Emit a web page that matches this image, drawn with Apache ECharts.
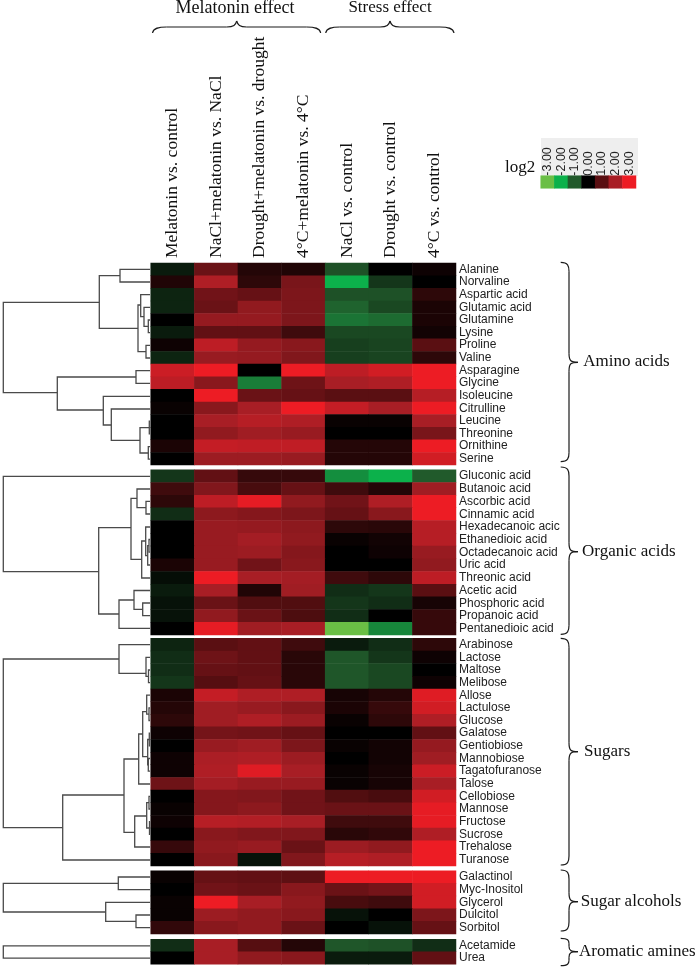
<!DOCTYPE html>
<html><head><meta charset="utf-8">
<script src="https://cdn.jsdelivr.net/npm/echarts@6/dist/echarts.min.js"></script>
<style>html,body{margin:0;padding:0;background:#fff}#c{width:700px;height:969px}</style>
</head><body><div id="c"></div>
<script>
const columns = ['Melatonin vs. control','NaCl+melatonin vs. NaCl','Drought+melatonin vs. drought','4°C+melatonin vs. 4°C','NaCl vs. control','Drought vs. control','4°C vs. control'];

const aminoRows = ['Alanine','Norvaline','Aspartic acid','Glutamic acid','Glutamine','Lysine','Proline','Valine','Asparagine','Glycine','Isoleucine','Citrulline','Leucine','Threonine','Ornithine','Serine'];
const aminoValues = [
[-0.3,1.2,0.4,0.35,-0.9,0,0.15],
[0.35,2.1,0.5,1.4,-2,-0.6,0],
[-0.4,1.3,1.15,1.45,-0.9,-0.9,0.5],
[-0.4,1.2,1.7,1.45,-1.1,-0.8,0.3],
[0,1.75,1.75,1.45,-1.3,-1.2,0.3],
[-0.3,1.1,1.1,0.7,-0.8,-0.8,0.2],
[0.15,2.3,1.75,1.6,-0.7,-0.75,1],
[-0.4,1.8,1.75,1.5,-0.7,-0.75,0.5],
[2.5,3,0,3,2.3,2.6,3],
[2.3,1.6,-1.4,1.25,2,2.1,3],
[0,3,1.2,1.15,1,1,2.2],
[0.1,1.6,2,3,2.4,2,3],
[0,2,2.2,2.1,0.1,0.1,2],
[0,1.7,1.9,1.8,0,0,1.4],
[0.3,2.4,2.35,2.35,0.4,0.4,3],
[0,1.85,1.85,1.8,0.4,0.4,2.6]];

const organicRows = ['Gluconic acid','Butanoic acid','Ascorbic acid','Cinnamic acid','Hexadecanoic acic','Ethanedioic acid','Octadecanoic acid','Uric acid','Threonic acid','Acetic acid','Phosphoric acid','Propanoic acid','Pentanedioic acid'];
const organicValues = [
[-0.6,1.1,0.6,0.6,-1.6,-2,-1],
[0.7,1.5,0.8,1.15,0.7,0.4,1.9],
[0.5,2.3,2.9,1.7,1.3,2.1,3],
[-0.5,1.65,1.55,1.45,1.15,1.6,3],
[0,1.8,1.75,1.65,0.5,0.45,2.2],
[0,1.8,1.95,1.7,0.1,0.2,2.2],
[0,1.8,1.85,1.55,0,0.15,1.8],
[0.3,1.8,1.3,1.6,0,0,1.7],
[-0.15,3,2,1.95,0.7,0.5,2.3],
[-0.3,2,0.35,1.9,-0.5,-0.6,1],
[-0.2,1.2,0.9,0.9,-0.6,-0.5,0.25],
[-0.2,1.7,1.2,0.85,-0.5,0,0.6],
[0,2.9,1.9,2,-3,-1.5,0.6]];

const sugarRows = ['Arabinose','Lactose','Maltose','Melibose','Allose','Lactulose','Glucose','Galatose','Gentiobiose','Mannobiose','Tagatofuranose','Talose','Cellobiose','Mannose','Fructose','Sucrose','Trehalose','Turanose'];
const sugarValues = [
[-0.4,1,1.1,0.7,-0.3,-0.5,0.5],
[-0.5,1.25,1.1,0.45,-0.95,-0.6,0.15],
[-0.5,1.15,1.1,0.45,-0.95,-0.8,0],
[-0.6,0.95,1.15,0.45,-0.95,-0.8,0.15],
[0.3,2.4,2.1,2.1,0.25,0.4,2.8],
[0.4,1.9,1.8,1.6,0.3,0.6,2.6],
[0.5,1.9,2.1,1.85,0.1,0.5,2.1],
[0.15,1.35,1.3,1.15,0,0,1.1],
[0,1.8,1.9,1.45,0.1,0.2,1.75],
[0.15,2.05,2.1,1.85,0,0.2,1.9],
[0.15,2.1,2.8,2,0.1,0.25,2.5],
[1.25,1.95,1.8,1.8,0.1,0.25,2],
[0,1.55,1.5,1.3,0.9,0.8,2.6],
[0.1,1.55,1.65,1.3,1.2,1.2,2.9],
[0.15,2.2,2.15,2,0.7,0.7,2.9],
[0,1.6,1.5,1.5,0.45,0.55,2.1],
[0.6,1.7,1.8,1.2,1.85,1.7,3],
[0,1.6,-0.2,1.5,2.2,2.1,3]];

const alcoholRows = ['Galactinol','Myc-Inositol','Glycerol','Dulcitol','Sorbitol'];
const alcoholValues = [
[0.1,1.15,1.1,1.05,3,3,3],
[0,1.3,1.2,1.6,1.2,1.35,2.6],
[0.1,3,2,1.7,0.8,0.7,2.6],
[0.1,1.85,1.7,1.6,-0.2,0,1.45],
[0.55,1.6,1.7,1.2,0,-0.2,1.15]];

const amineRows = ['Acetamide','Urea'];
const amineValues = [
[-0.5,2,0.95,0.4,-0.95,-0.9,-0.5],
[0,2,1.7,1.6,-0.3,-0.3,1.1]];

const scaleValues = [-3,-2,-1,0,1,2,3];
const scaleLabels = ['-3.00','-2.00','-1.00','0.00','1.00','2.00','3.00'];
const scaleColors = ['#6abf45','#0cb14b','#215a2b','#000000','#5a0f12','#a81e25','#ed1c24'];

// dendrogram merges: [merge x, upper y, upper child x, lower y, lower child x]
const dendrogram = [
[3.3,302.3,99.3,392.7,57.3],[99.3,275.7,120,328.3,138],[120,269.4,150,282,150],
[138,305,140.7,351.7,146],[140.7,294.7,150,316.7,144],[144,307.3,150,326.3,148.3],[148.3,320,150,332.6,150],[146,345.3,150,358,150],
[57.3,377,136,410,103.3],[136,370.6,150,383.3,150],[103.3,396.3,150,425,111.3],[111.3,409,150,440.3,140],[140,427.6,149.3,453,148.3],
[149.3,421.2,150,433.9,150],[148.3,446.6,150,459.2,150],
[3.3,476.3,150,571.7,98.7],[98.7,527.7,131,614,119],[131,498.3,137,559.3,141.7],[137,489,150,507.7,146],[146,501.4,150,514,150],
[141.7,541,145.7,578,150],[145.7,527,150,555.7,147.7],[147.7,545.7,149,565,150],[149,539.5,150,552.2,150],
[119,600,134,628.4,150],[134,590.5,150,609.3,142.7],[142.7,603,150,615.7,150],
[3.3,659,119,827.7,62.7],[119,644.6,150,673.3,146],[146,657.3,150,676.3,148.5],[148.5,670,150,682.6,150],
[62.7,795,124,860,150],[124,759,138.7,832.3,134.7],[138.7,734,142.7,784,150],[142.7,711.7,146.7,756.7,147.7],
[146.7,695.2,150,714.2,149],[149,707.9,150,720.5,150],[147.7,739.5,149.3,764.8,148.3],[149.3,733.2,150,745.8,150],[148.3,758.5,150,771.1,150],
[134.7,816,146.7,847,150],[146.7,802.7,149,828,149.5],[149,796.4,150,809,150],[149.5,821.7,150,834.3,150],
[3.3,883.3,118.3,912,105.7],[118.3,877,150,889.7,150],[105.7,902.3,150,921.3,136],[136,915,150,927.6,150],
[3.3,945.8,150,958.2,150]
];

const groups = [
  {rows:aminoRows, values:aminoValues, top:263, height:202},
  {rows:organicRows, values:organicValues, top:469.7, height:165.3},
  {rows:sugarRows, values:sugarValues, top:638.3, height:227.7},
  {rows:alcoholRows, values:alcoholValues, top:870.7, height:63.3},
  {rows:amineRows, values:amineValues, top:939.3, height:25}
];
const serif = 'Liberation Serif, Times New Roman, serif';
const sans = 'Liberation Sans, Arial, sans-serif';
const grids=[], xAxes=[], yAxes=[], series=[];
groups.forEach((g,i)=>{
  grids.push({left:150.7, width:305.3, top:g.top, height:g.height});
  xAxes.push({gridIndex:i, type:'category', data:columns, position:'top',
    axisLine:{show:false}, axisTick:{show:false}, splitLine:{show:false},
    axisLabel: i===0 ? {show:true, interval:0, rotate:-90, margin:5, fontFamily:serif, fontSize:17.5, color:'#111'} : {show:false}});
  yAxes.push({gridIndex:i, type:'category', data:g.rows, inverse:true, position:'right',
    axisLine:{show:false}, axisTick:{show:false}, splitLine:{show:false},
    axisLabel:{interval:0, margin:3, fontFamily:sans, fontSize:12, color:'#222'}});
  const d=[];
  g.values.forEach((r,y)=>r.forEach((v,x)=>d.push([x,y,v])));
  series.push({type:'heatmap', xAxisIndex:i, yAxisIndex:i, data:d, progressive:0, animation:false, emphasis:{disabled:true}});
});
// colour scale grid
grids.push({left:540.7, width:95.3, top:175.7, height:12.6});
xAxes.push({gridIndex:5, type:'category', data:scaleLabels, position:'top',
  axisLine:{show:false}, axisTick:{show:false}, splitLine:{show:false},
  axisLabel:{interval:0, rotate:-90, margin:0, fontFamily:sans, fontSize:12.5, color:'#222'}});
yAxes.push({gridIndex:5, type:'category', data:['log2'], axisLine:{show:false}, axisTick:{show:false}, axisLabel:{show:false}, splitLine:{show:false}});
series.push({type:'heatmap', xAxisIndex:5, yAxisIndex:5, data:scaleValues.map((v,i)=>[i,0,v]), animation:false, emphasis:{disabled:true}});
// dendrogram grid
grids.push({left:0, width:150, top:0, height:969});
xAxes.push({gridIndex:6, type:'value', min:0, max:150, show:false});
yAxes.push({gridIndex:6, type:'value', min:0, max:969, inverse:true, show:false});
series.push({type:'custom', xAxisIndex:6, yAxisIndex:6, data:dendrogram, silent:true, animation:false, clip:false,
  encode:{x:0,y:1},
  renderItem:(p,api)=>{
    const m=api.value(0), ya=api.value(1), xa=api.value(2), yb=api.value(3), xb=api.value(4);
    return {type:'polyline', shape:{points:[api.coord([xa,ya]),api.coord([m,ya]),api.coord([m,yb]),api.coord([xb,yb])]},
      style:{fill:null, stroke:'#4a4a4a', lineWidth:1.3}};
  }});

const braceStyle={stroke:'#1a1a1a', lineWidth:1.2, fill:null};
function curve(a,b,c,d){return {type:'bezierCurve',silent:true,shape:{x1:a[0],y1:a[1],cpx1:b[0],cpy1:b[1],cpx2:c[0],cpy2:c[1],x2:d[0],y2:d[1]},style:braceStyle};}
function seg(a,b){return {type:'line',silent:true,shape:{x1:a[0],y1:a[1],x2:b[0],y2:b[1]},style:braceStyle};}
function rightBrace(x0,xm,tip,yt,ym,yb){
  const r=Math.min(9,(yb-yt)/5);
  return [curve([x0,yt],[xm-1,yt],[xm,yt+r*.4],[xm,yt+r]),seg([xm,yt+r],[xm,ym-r]),curve([xm,ym-r],[xm,ym-1],[xm+2,ym],[tip,ym]),
          curve([tip,ym],[xm+2,ym],[xm,ym+1],[xm,ym+r]),seg([xm,ym+r],[xm,yb-r]),curve([xm,yb-r],[xm,yb-r*.4],[xm-1,yb],[x0,yb])];
}
function topBrace(xl,xr,tip,ye,ym,yt){
  return [curve([xl,ye],[xl+1,ym+1],[xl+6,ym],[xl+14,ym]),seg([xl+14,ym],[tip-10,ym]),curve([tip-10,ym],[tip-3,ym],[tip-1,ym-2],[tip,yt]),
          curve([tip,yt],[tip+1,ym-2],[tip+3,ym],[tip+10,ym]),seg([tip+10,ym],[xr-14,ym]),curve([xr-14,ym],[xr-6,ym],[xr-1,ym+1],[xr,ye])];
}
function label(t,x,y,align,size){return {type:'text',silent:true,x:x,y:y,style:{text:t,font:(size||17)+'px '+serif,fill:'#111',textAlign:align||'left',textVerticalAlign:'middle'}};}
const graphic=[
  {type:'rect',silent:true,z:-1,shape:{x:541,y:138,width:97,height:38},style:{fill:'#eeeeee'}},
  label('Melatonin effect',235,8,'center',18),
  label('Stress effect',390,8,'center'),
  label('log2',505,168),
  label('Amino acids',583.3,362),
  label('Organic acids',582,552),
  label('Sugars',584,751.5),
  label('Sugar alcohols',580.7,902),
  label('Aromatic amines',579,952),
  ...topBrace(152.5,320.7,236.7,33,27,21),
  ...topBrace(325.7,454,390,33,27,21),
  ...rightBrace(560.7,569,578,262.3,362.3,461.7),
  ...rightBrace(560.7,569,578,467,551.7,634.3),
  ...rightBrace(560.7,569,578,638.3,751.7,865),
  ...rightBrace(560.7,569,578,870,901.7,931),
  ...rightBrace(560.7,569,578,938.3,951.7,965.7)
];
const chart=echarts.init(document.getElementById('c'),null,{renderer:'canvas'});
chart.setOption({
  animation:false,
  backgroundColor:'#fff',
  grid:grids, xAxis:xAxes, yAxis:yAxes, series:series, graphic:graphic,
  visualMap:{show:false, type:'continuous', min:-3, max:3, dimension:2,
    seriesIndex:[0,1,2,3,4,5], inRange:{color:scaleColors}}
});
</script></body></html>
